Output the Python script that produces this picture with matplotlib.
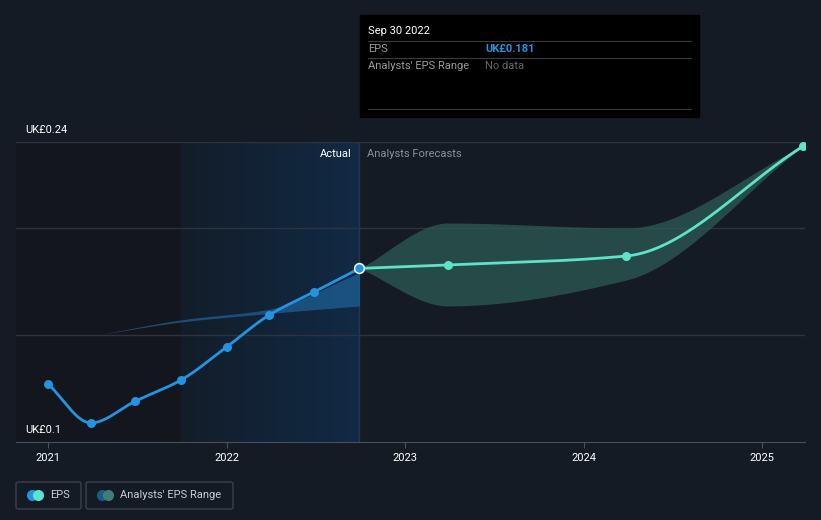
import numpy as np
import matplotlib
matplotlib.use("Agg")
import matplotlib.pyplot as plt
from matplotlib.patches import FancyBboxPatch, Rectangle
from matplotlib.lines import Line2D
from matplotlib.colors import LinearSegmentedColormap

plt.rcParams["font.family"] = ["Roboto", "DejaVu Sans"]

# data (decimal years, EPS in UK£)
eps_x = [2021.0, 2021.24, 2021.49, 2021.745, 2022.0, 2022.24, 2022.49, 2022.745]
eps_y = [0.1271, 0.1089, 0.1191, 0.1289, 0.1443, 0.1593, 0.1700, 0.1810]

fc_x = [2022.745, 2023.24, 2024.24, 2025.23]
fc_y = [0.1810, 0.1826, 0.1868, 0.2380]
fc_hi = [0.1810, 0.2022, 0.1999, 0.2380]
fc_lo = [0.1810, 0.1635, 0.1756, 0.2380]

past_x = [2021.28, 2021.745, 2022.24, 2022.745]
past_hi = [0.1500, 0.1570, 0.1620, 0.1790]
past_lo = [0.1500, 0.1560, 0.1600, 0.1635]

year_ticks = [2021, 2022, 2023, 2024, 2025]
grid_vals = [0.15, 0.2, 0.24]

BG = "#151b25"
BLUE = "#2394df"
TEAL = "#5de3c8"
FS = 8


def pchip(x, y, n=200):
    # monotone cubic curve through the points, for drawing only
    x = np.asarray(x, float)
    y = np.asarray(y, float)
    h = np.diff(x)
    d = np.diff(y) / h
    m = np.zeros_like(y)
    m[0], m[-1] = d[0], d[-1]
    for k in range(1, len(x) - 1):
        if d[k - 1] * d[k] > 0:
            w1 = 2 * h[k] + h[k - 1]
            w2 = h[k] + 2 * h[k - 1]
            m[k] = (w1 + w2) / (w1 / d[k - 1] + w2 / d[k])
    xs, ys = [], []
    for k in range(len(x) - 1):
        t = np.linspace(0, 1, n)
        h00 = 2 * t**3 - 3 * t**2 + 1
        h10 = t**3 - 2 * t**2 + t
        h01 = -2 * t**3 + 3 * t**2
        h11 = t**3 - t**2
        xs.append(x[k] + t * h[k])
        ys.append(h00 * y[k] + h10 * h[k] * m[k] + h01 * y[k + 1] + h11 * h[k] * m[k + 1])
    return np.concatenate(xs), np.concatenate(ys)


fig = plt.figure(figsize=(8.21, 5.2), dpi=100)
fig.patch.set_facecolor(BG)
W, H = 821, 520
ax = fig.add_axes([16 / W, 1 - 442 / H, (805 - 16) / W, 300 / H])
ax.set_facecolor(BG)

x0 = 2021 + (16 - 48) / 178.5
x1 = 2021 + (805 - 48) / 178.5
ax.set_xlim(x0, x1)
ax.set_ylim(0.1, 0.24)

# shaded past regions
ax.axvspan(x0, 2021.745, color="#13161c", zorder=0, lw=0)
grad = np.linspace(0, 1, 256).reshape(1, -1)
cmap = LinearSegmentedColormap.from_list("g", ["#131d29", "#112a45"])
ax.imshow(grad, extent=[2021.745, 2022.745, 0.1, 0.24], aspect="auto",
          cmap=cmap, zorder=0.5)
ax.axvline(2022.745, color="#23384f", lw=1, zorder=1)

for g in grid_vals:
    ax.axhline(g, color="#2e343f", lw=1, zorder=1)

# past analyst range
px, ph = pchip(past_x, past_hi)
_, pl = pchip(past_x, past_lo)
ax.fill_between(px, pl, ph, color="#1f5f93", alpha=0.75, lw=0, zorder=2)

# forecast range
fx, fh = pchip(fc_x, fc_hi)
_, fl = pchip(fc_x, fc_lo)
ax.fill_between(fx, fl, fh, color="#2d5a55", alpha=0.75, lw=0, zorder=2)

# lines
ex, ey = pchip(eps_x, eps_y)
ax.plot(ex, ey, color=BLUE, lw=2, zorder=3, solid_capstyle="round")
ax.scatter(eps_x[:-1], eps_y[:-1], s=42, color=BLUE, zorder=4, lw=0)
cx, cy = pchip(fc_x, fc_y)
ax.plot(cx, cy, color=TEAL, lw=2, zorder=3, solid_capstyle="round")
ax.scatter(fc_x[1:], fc_y[1:], s=42, color=TEAL, zorder=4, lw=0)
ax.scatter([eps_x[-1]], [eps_y[-1]], s=50, color=BLUE, edgecolor="white",
           lw=1.1, zorder=5)

# axes styling
for s in ["top", "right", "left"]:
    ax.spines[s].set_visible(False)
ax.spines["bottom"].set_color("#4a505a")
ax.set_yticks([])
ax.set_xticks(year_ticks)
ax.set_xticklabels([str(y) for y in year_ticks], color="white", fontsize=FS)
ax.tick_params(axis="x", length=4, color="#4a505a", pad=4)

ax.text(2021 + (25 - 48) / 178.5, 0.24 + 12 / 2143, "UK£0.24", color="white",
        fontsize=FS, va="center", ha="left")
ax.text(2021 + (25 - 48) / 178.5, 0.1 + 12 / 2143, "UK£0.1", color="white",
        fontsize=FS, va="center", ha="left")
ax.text(2022.745 - 8 / 178.5, 0.24 - 12 / 2143, "Actual", color="white",
        fontsize=FS, va="center", ha="right")
ax.text(2022.745 + 8 / 178.5, 0.24 - 12 / 2143, "Analysts Forecasts",
        color="#8a9099", fontsize=FS, va="center", ha="left")

# tooltip
fig.patches.append(Rectangle((360 / W, 1 - 117 / H), 339 / W, 102 / H,
                             transform=fig.transFigure, color="black", zorder=10))
for yy in [41, 58, 109]:
    fig.add_artist(Line2D([368 / W, 691 / W], [1 - yy / H, 1 - yy / H],
                          color="#3a3a3a", lw=0.8, zorder=11))
fig.text(368 / W, 1 - 31 / H, "Sep 30 2022", color="white", fontsize=FS,
         va="center", zorder=12)
fig.text(368 / W, 1 - 49 / H, "EPS", color="#9a9a9a", fontsize=FS,
         va="center", zorder=12)
fig.text(485 / W, 1 - 49 / H, "UK£0.181", color=BLUE, fontsize=FS,
         fontweight="bold", va="center", zorder=12)
fig.text(368 / W, 1 - 66 / H, "Analysts' EPS Range", color="#9a9a9a",
         fontsize=FS, va="center", zorder=12)
fig.text(485 / W, 1 - 66 / H, "No data", color="#666666", fontsize=FS,
         va="center", zorder=12)


# legend boxes
def legend_box(xl, xr, label, c1, c2):
    fig.patches.append(FancyBboxPatch((xl / W, 1 - 509 / H), (xr - xl) / W, 27 / H,
                                      boxstyle="round,pad=0,rounding_size=0.003",
                                      transform=fig.transFigure, fc="none",
                                      ec="#3b414b", lw=1))
    fig.add_artist(Line2D([(xl + 16) / W], [1 - 495 / H], marker="o", ms=7,
                          color=c1, lw=0))
    fig.add_artist(Line2D([(xl + 22) / W], [1 - 495 / H], marker="o", ms=7,
                          color=c2, lw=0))
    fig.text((xl + 34) / W, 1 - 495 / H, label, color="#c8ccd2", fontsize=FS,
             va="center")


legend_box(16, 81, "EPS", BLUE, TEAL)
legend_box(86, 233, "Analysts' EPS Range", "#1e5a85", "#3f7f77")

fig.savefig("out.png", dpi=100, facecolor=BG)
